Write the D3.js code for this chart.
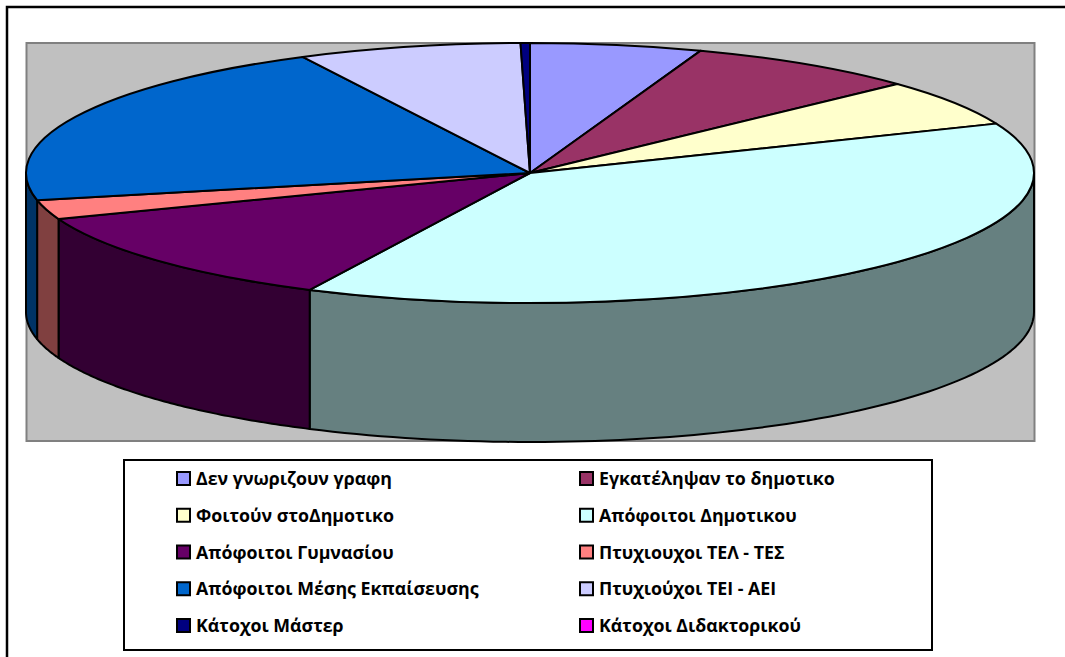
<!DOCTYPE html>
<html><head><meta charset="utf-8">
<script src="https://cdn.jsdelivr.net/npm/d3@7"></script>
<style>
html,body{margin:0;padding:0;background:#fff}
svg{display:block}
text{font-family:"Open Sans",sans-serif;font-weight:700;font-size:17.8px;fill:#000}
</style></head><body>
<svg id="chart" width="1065" height="657"></svg>
<script>
// Education level shares (percent), in pie order clockwise from twelve o'clock
const categories = ["Δεν γνωριζουν γραφη","Εγκατέληψαν το δημοτικο","Φοιτούν στοΔημοτικο","Απόφοιτοι Δημοτικου","Απόφοιτοι Γυμνασίου","Πτυχιουχοι ΤΕΛ - ΤΕΣ","Απόφοιτοι Μέσης Εκπαίσευσης","Πτυχιούχοι ΤΕΙ - ΑΕΙ","Κάτοχοι Μάστερ","Κάτοχοι Διδακτορικού"];
const shares = [5.5,7.5,5.8,38.4,12.05,2.4,20.9,7.15,0.3,0];
const topColors = ["#9999ff","#993366","#ffffcc","#ccffff","#660066","#ff8080","#0066cc","#ccccff","#000080","#ff00ff"];
const sideColors = ["#4d4d80","#4d1a33","#808066","#668080","#330033","#804040","#003366","#666680","#000040","#800080"];

const cx = 530, cy = 173, rx = 504, ry = 130, depth = 139;

const svg = d3.select("#chart");
const TAU = 2 * Math.PI;

// Page frame: open on the right and at the bottom of the sheet
svg.append("path").attr("d","M7,657V7H1065").attr("fill","none").attr("stroke","#000").attr("stroke-width",2.5);

// Plot area backdrop
svg.append("rect").attr("x",26.5).attr("y",43).attr("width",1008).attr("height",398)
  .attr("fill","#c0c0c0").attr("stroke","#808080").attr("stroke-width",2);

const slices = d3.pie().sort(null).value(d => d).startAngle(0).endAngle(TAU)(shares);

// Tilted disc projection of an angle measured clockwise from the top
const px = a => cx + rx * Math.sin(a);
const py = (a, h = 0) => cy - ry * Math.cos(a) + h;

// Outer wall: only the front half of the disc (90°..270°) faces the viewer
const walls = slices.map((s, i) => {
  const a0 = Math.max(s.startAngle, Math.PI / 2), a1 = Math.min(s.endAngle, 1.5 * Math.PI);
  return {i, a0, a1};
}).filter(w => w.a1 > w.a0);

const wallPath = w => {
  const n = 80;
  const angles = d3.range(n + 1).map(k => w.a0 + (w.a1 - w.a0) * k / n);
  const line = d3.line().x(d => px(d[0])).y(d => py(d[0], d[1]));
  return line(angles.map(a => [a, 0]).concat(angles.slice().reverse().map(a => [a, depth]))) + "Z";
};

svg.append("g").selectAll("path").data(walls).join("path")
  .attr("d", wallPath)
  .attr("fill", w => sideColors[w.i])
  .attr("stroke", "#000").attr("stroke-width", 2).attr("stroke-linejoin", "round");

// Top face of the disc
const arc = d3.arc().innerRadius(0).outerRadius(ry);
svg.append("g").attr("transform", `translate(${cx},${cy}) scale(${rx / ry},1)`)
  .selectAll("path").data(slices.filter(s => s.value > 0)).join("path")
  .attr("d", arc)
  .attr("fill", s => topColors[s.index])
  .attr("stroke", "#000").attr("stroke-width", 2).attr("stroke-linejoin", "round")
  .attr("vector-effect", "non-scaling-stroke");

// Legend: two columns, five rows
svg.append("rect").attr("x",124).attr("y",460).attr("width",808).attr("height",190)
  .attr("fill","#fff").attr("stroke","#000").attr("stroke-width",2);

const colX = d3.scalePoint().domain([0,1]).range([177,580]);
const rowY = d3.scalePoint().domain(d3.range(5)).range([479,626]);

const items = svg.append("g").selectAll("g").data(categories).join("g")
  .attr("transform", (d,i) => `translate(${colX(i%2)},${rowY(Math.floor(i/2))})`);
items.append("rect").attr("x",0).attr("y",-7).attr("width",13).attr("height",13)
  .attr("fill",(d,i) => topColors[i]).attr("stroke","#000").attr("stroke-width",2);
items.append("text").attr("x",19).attr("dy","0.35em").text(d => d);
</script>
</body></html>
